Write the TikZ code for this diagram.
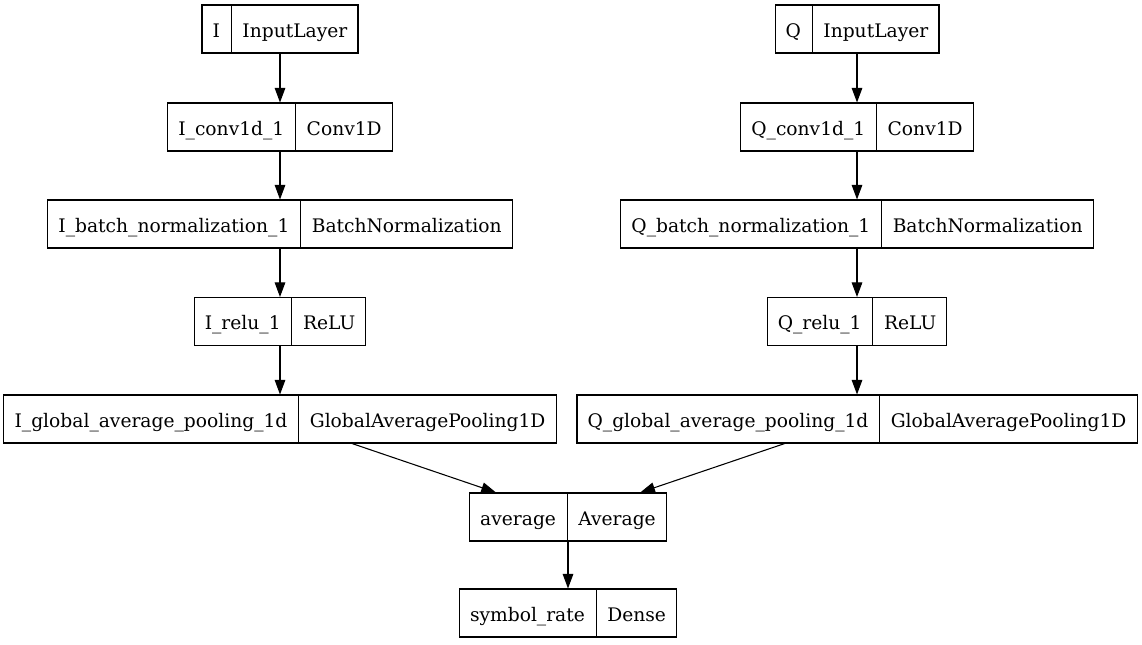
\documentclass[tikz,border=0pt]{standalone}
\usepackage{fontspec}
\setmainfont{DejaVu Serif}
\usetikzlibrary{shapes.multipart,arrows.meta}

% strut that fixes the height of every field
\newcommand{\lstrut}{\rule[-12pt]{0pt}{36pt}}
\newcommand{\layer}[2]{#1\lstrut\nodepart{two}#2\lstrut}

\tikzset{
  layer/.style={draw, line width=0.8pt, rectangle split, rectangle split horizontal,
    rectangle split parts=2, inner xsep=8pt, inner ysep=0pt,
    font=\fontsize{14pt}{17pt}\selectfont},
  edge/.style={line width=0.8pt, -{Triangle[length=11pt,width=8pt]}}
}

\begin{document}
\begin{tikzpicture}[x=0.75pt, y=-0.75pt]

    \useasboundingbox (0,0) rectangle (1142,644);

    % I branch
    \node[layer] (iin)   at (280,29)    {\layer{I}{InputLayer}};
    \node[layer] (iconv) at (280,127)   {\layer{I\_conv1d\_1}{Conv1D}};
    \node[layer] (ibn)   at (280,224)   {\layer{I\_batch\_normalization\_1}{BatchNormalization}};
    \node[layer] (irelu) at (280,321.5) {\layer{I\_relu\_1}{ReLU}};
    \node[layer] (igap)  at (280,419)   {\layer{I\_global\_average\_pooling\_1d}{GlobalAveragePooling1D}};

    % Q branch
    \node[layer] (qin)   at (857,29)    {\layer{Q}{InputLayer}};
    \node[layer] (qconv) at (857,127)   {\layer{Q\_conv1d\_1}{Conv1D}};
    \node[layer] (qbn)   at (857,224)   {\layer{Q\_batch\_normalization\_1}{BatchNormalization}};
    \node[layer] (qrelu) at (857,321.5) {\layer{Q\_relu\_1}{ReLU}};
    \node[layer] (qgap)  at (857,419)   {\layer{Q\_global\_average\_pooling\_1d}{GlobalAveragePooling1D}};

    % merge and output
    \node[layer] (avg) at (568,517) {\layer{average}{Average}};
    \node[layer] (out) at (568,613) {\layer{symbol\_rate}{Dense}};

    \draw[edge] (iin) -- (iconv);
    \draw[edge] (iconv) -- (ibn);
    \draw[edge] (ibn) -- (irelu);
    \draw[edge] (irelu) -- (igap);
    \draw[edge] (qin) -- (qconv);
    \draw[edge] (qconv) -- (qbn);
    \draw[edge] (qbn) -- (qrelu);
    \draw[edge] (qrelu) -- (qgap);
    \draw[edge] (igap) -- (avg);
    \draw[edge] (qgap) -- (avg);
    \draw[edge] (avg) -- (out);

\end{tikzpicture}
\end{document}
